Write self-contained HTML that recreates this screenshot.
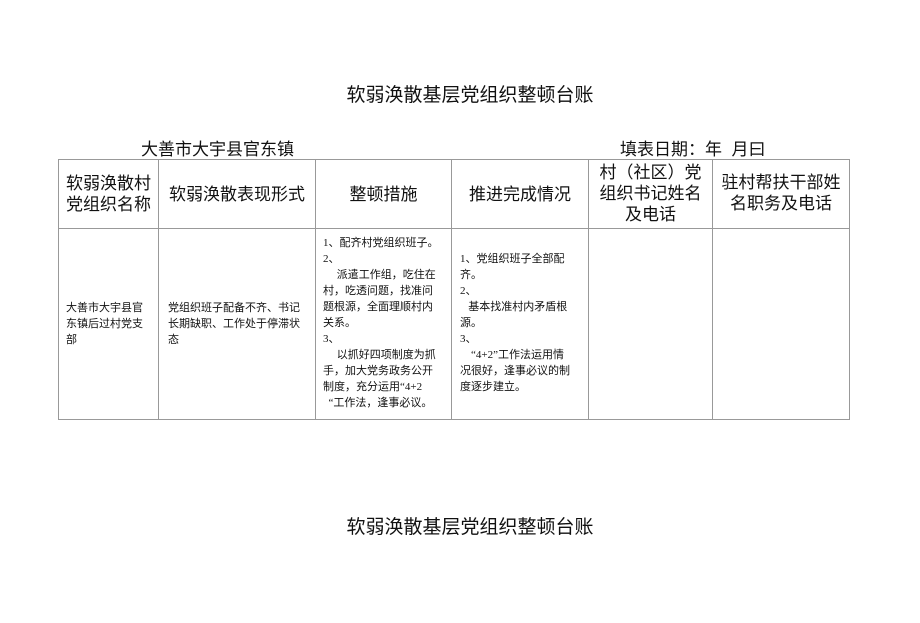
<!DOCTYPE html>
<html><head><meta charset="utf-8"><style>
body{margin:0;width:920px;height:623px;background:#fff;position:relative;overflow:hidden;font-family:"Liberation Serif","Noto Serif CJK SC","Noto Sans CJK SC",serif;color:#111}
.a{position:absolute;white-space:nowrap}
.h{font-family:"Liberation Sans","Noto Sans CJK SC",sans-serif}
.v{position:absolute;top:159px;height:260px;width:1px;background:#999}
.hz{position:absolute;left:58px;width:792px;height:1px;background:#999}
.hd{position:absolute;font-family:"Liberation Sans","Noto Sans CJK SC",sans-serif;font-size:17px;line-height:21px;text-align:center;display:flex;align-items:center;justify-content:center;top:160px;height:68px}
.b{position:absolute;font-size:11px;line-height:16px;font-family:"Liberation Serif","Noto Sans CJK SC",serif}
</style></head><body>
<div class="a h" style="left:0;width:940px;text-align:center;top:80px;font-size:19px">软弱涣散基层党组织整顿台账</div>
<div class="a h" style="left:0;width:940px;text-align:center;top:512px;font-size:19px">软弱涣散基层党组织整顿台账</div>
<div class="a h" style="left:141px;top:135px;font-size:17px">大善市大宇县官东镇</div>
<div class="a h" style="left:620px;top:135px;font-size:17px">填表日期：年&nbsp;&nbsp;月曰</div>
<div class="hz" style="top:159px"></div>
<div class="hz" style="top:228px"></div>
<div class="hz" style="top:419px"></div>
<div class="v" style="left:58px"></div>
<div class="v" style="left:158px"></div>
<div class="v" style="left:315px"></div>
<div class="v" style="left:451px"></div>
<div class="v" style="left:588px"></div>
<div class="v" style="left:712px"></div>
<div class="v" style="left:849px"></div>
<div class="hd" style="left:59px;width:99px;text-align:left">软弱涣散村<br>党组织名称</div>
<div class="hd" style="left:159px;width:156px">软弱涣散表现形式</div>
<div class="hd" style="left:316px;width:135px">整顿措施</div>
<div class="hd" style="left:452px;width:136px">推进完成情况</div>
<div class="hd" style="left:589px;width:123px;top:159px">村（社区）党<br>组织书记姓名<br>及电话</div>
<div class="hd" style="left:713px;width:136px;top:159px">驻村帮扶干部姓<br>名职务及电话</div>
<div class="b" style="left:66px;top:300px;width:90px">大善市大宇县官<br>东镇后过村党支<br>部</div>
<div class="b" style="left:168px;top:300px;width:146px">党组织班子配备不齐、书记<br>长期缺职、工作处于停滞状<br>态</div>
<div class="b" style="left:323px;top:235px;width:128px">1、配齐村党组织班子。<br>2、<br>&nbsp;&nbsp;&nbsp;&nbsp;&nbsp;派遣工作组，吃住在<br>村，吃透问题，找准问<br>题根源，全面理顺村内<br>关系。<br>3、<br>&nbsp;&nbsp;&nbsp;&nbsp;&nbsp;以抓好四项制度为抓<br>手，加大党务政务公开<br>制度，充分运用“4+2<br>&nbsp;&nbsp;“工作法，逢事必议。</div>
<div class="b" style="left:460px;top:251px;width:128px">1、党组织班子全部配<br>齐。<br>2、<br>&nbsp;&nbsp;&nbsp;基本找准村内矛盾根<br>源。<br>3、<br>&nbsp;&nbsp;&nbsp;&nbsp;“4+2”工作法运用情<br>况很好，逢事必议的制<br>度逐步建立。</div>
</body></html>
